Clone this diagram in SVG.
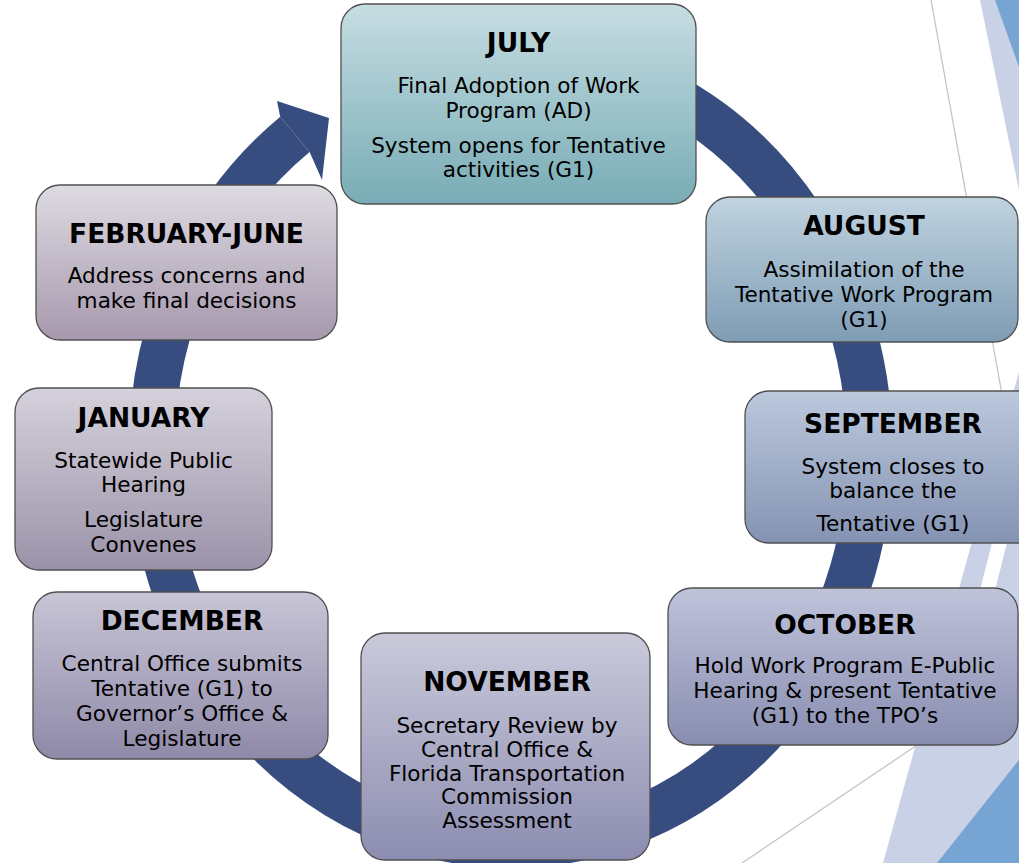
<svg xmlns="http://www.w3.org/2000/svg" width="1019" height="863" viewBox="0 0 1019 863">
<defs>
<linearGradient id="gJul" x1="0" y1="0" x2="0" y2="1"><stop offset="0" stop-color="#c6dde2"/><stop offset="1" stop-color="#78acb5"/></linearGradient>
<linearGradient id="gAug" x1="0" y1="0" x2="0" y2="1"><stop offset="0" stop-color="#c0d3df"/><stop offset="1" stop-color="#7e9cb5"/></linearGradient>
<linearGradient id="gSep" x1="0" y1="0" x2="0" y2="1"><stop offset="0" stop-color="#bcc8dc"/><stop offset="1" stop-color="#8493b3"/></linearGradient>
<linearGradient id="gOct" x1="0" y1="0" x2="0" y2="1"><stop offset="0" stop-color="#bfc3da"/><stop offset="1" stop-color="#898db0"/></linearGradient>
<linearGradient id="gNov" x1="0" y1="0" x2="0" y2="1"><stop offset="0" stop-color="#cacadb"/><stop offset="1" stop-color="#8c8cb0"/></linearGradient>
<linearGradient id="gDec" x1="0" y1="0" x2="0" y2="1"><stop offset="0" stop-color="#c8c5d6"/><stop offset="1" stop-color="#8f89a8"/></linearGradient>
<linearGradient id="gJan" x1="0" y1="0" x2="0" y2="1"><stop offset="0" stop-color="#d5d1dc"/><stop offset="1" stop-color="#9b92a8"/></linearGradient>
<linearGradient id="gFeb" x1="0" y1="0" x2="0" y2="1"><stop offset="0" stop-color="#dedbe2"/><stop offset="1" stop-color="#a698ad"/></linearGradient>
</defs>
<style>
.box{stroke:#505050;stroke-width:1.3}
.t{font-family:"DejaVu Sans",Verdana,sans-serif;font-weight:bold;font-size:26.5px;text-anchor:middle;fill:#000}
.b{font-family:"DejaVu Sans",Verdana,sans-serif;font-size:21.6px;text-anchor:middle;fill:#000}
.lav{fill:#c9d1e6}
.blu{fill:#76a4d3}
.gl{stroke:#c4c4c4;stroke-width:1.3;fill:none}
</style>
<rect width="1019" height="863" fill="#ffffff"/>
<g id="decor">
<polygon class="lav" points="980,0 1019,0 1019,190"/>
<polygon class="blu" points="995,0 1019,0 1019,67"/>
<line class="gl" x1="931" y1="0" x2="1003" y2="400"/>
<polygon class="lav" points="1019,372 1019,863 883,863"/>
<polygon points="992,543 1007,543 995,590 980,590" fill="#ffffff"/>
<polygon class="blu" points="1019,760 1019,863 937,863"/>
<line class="gl" x1="742" y1="863" x2="935" y2="733"/>
</g>
<g id="connectors">
<path d="M511,55 A359,395 0 1 1 294.9,134.4" fill="none" stroke="#374d80" stroke-width="46"/>
<polygon points="280.2,116.7 277,101 329,118 322,180 309.6,152.1" fill="#374d80"/>
</g>
<g id="july">
<rect class="box" x="341" y="4" width="355" height="200" rx="24" fill="url(#gJul)"/>
<text class="t" x="518.5" y="52">JULY</text>
<text class="b" x="518.5" y="93">Final Adoption of Work</text>
<text class="b" x="518.5" y="118">Program (AD)</text>
<text class="b" x="518.5" y="153">System opens for Tentative</text>
<text class="b" x="518.5" y="177">activities (G1)</text>
</g>
<g id="august">
<rect class="box" x="706" y="197" width="312" height="145" rx="24" fill="url(#gAug)"/>
<text class="t" x="864" y="235">AUGUST</text>
<text class="b" x="864" y="277">Assimilation of the</text>
<text class="b" x="864" y="302">Tentative Work Program</text>
<text class="b" x="864" y="327">(G1)</text>
</g>
<g id="september">
<rect class="box" x="745" y="391" width="300" height="152" rx="24" fill="url(#gSep)"/>
<text class="t" x="893" y="433">SEPTEMBER</text>
<text class="b" x="893" y="474">System closes to</text>
<text class="b" x="893" y="498">balance the</text>
<text class="b" x="893" y="531">Tentative (G1)</text>
</g>
<g id="october">
<rect class="box" x="668" y="588" width="350" height="157" rx="24" fill="url(#gOct)"/>
<text class="t" x="845" y="634">OCTOBER</text>
<text class="b" x="845" y="673">Hold Work Program E-Public</text>
<text class="b" x="845" y="698">Hearing &amp; present Tentative</text>
<text class="b" x="845" y="723">(G1) to the TPO’s</text>
</g>
<g id="november">
<rect class="box" x="361" y="633" width="289" height="227" rx="24" fill="url(#gNov)"/>
<text class="t" x="507" y="691">NOVEMBER</text>
<text class="b" x="507" y="733">Secretary Review by</text>
<text class="b" x="507" y="757">Central Office &amp;</text>
<text class="b" x="507" y="781">Florida Transportation</text>
<text class="b" x="507" y="804">Commission</text>
<text class="b" x="507" y="828">Assessment</text>
</g>
<g id="december">
<rect class="box" x="33" y="592" width="295" height="167" rx="24" fill="url(#gDec)"/>
<text class="t" x="182" y="630">DECEMBER</text>
<text class="b" x="182" y="671">Central Office submits</text>
<text class="b" x="182" y="696">Tentative (G1) to</text>
<text class="b" x="182" y="721">Governor’s Office &amp;</text>
<text class="b" x="182" y="746">Legislature</text>
</g>
<g id="january">
<rect class="box" x="15" y="388" width="257" height="182" rx="24" fill="url(#gJan)"/>
<text class="t" x="143.5" y="427">JANUARY</text>
<text class="b" x="143.5" y="468">Statewide Public</text>
<text class="b" x="143.5" y="492">Hearing</text>
<text class="b" x="143.5" y="527">Legislature</text>
<text class="b" x="143.5" y="552">Convenes</text>
</g>
<g id="february-june">
<rect class="box" x="36" y="185" width="301" height="155" rx="24" fill="url(#gFeb)"/>
<text class="t" x="186.5" y="243">FEBRUARY-JUNE</text>
<text class="b" x="186.5" y="283">Address concerns and</text>
<text class="b" x="186.5" y="308">make final decisions</text>
</g>
</svg>
